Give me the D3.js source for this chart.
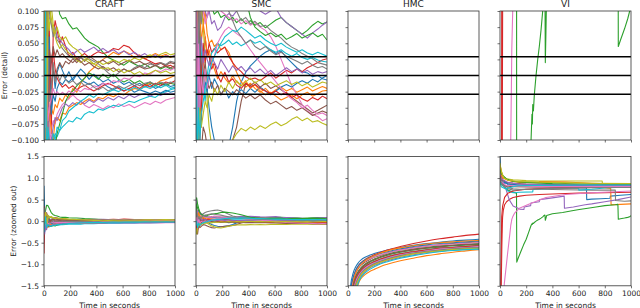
<!DOCTYPE html>
<html><head><meta charset="utf-8">
<script src="https://cdn.jsdelivr.net/npm/d3@7"></script>
<style>body{margin:0;background:#fff}svg{display:block}text{font-family:"DejaVu Sans",sans-serif;fill:#222}</style>
</head><body><svg id="c" width="640" height="308"></svg>
<script>
const methods = ["CRAFT", "SMC", "HMC", "VI"];
const colors = ["#1f77b4","#ff7f0e","#2ca02c","#d62728","#9467bd","#8c564b","#e377c2","#7f7f7f","#bcbd22","#17becf"];
const detailTicks = [-0.1,-0.075,-0.05,-0.025,0,0.025,0.05,0.075,0.1];
const zoomTicks = [-1.5,-1,-0.5,0,0.5,1,1.5];
const timeTicks = [0,200,400,600,800,1000];
const refLevels = [0.029, 0, -0.029];

const gridT = [0,5,12,20,30,40,55,70,85,100,120,140,165,190,220,250,280,310,345,380,415,450,490,530,570,610,650,690,730,770,810,850,890,930,965,1000];

const craftSeries = [
 [0.82,0.25,0.08,-0.06,0.05,-0.04,0.03,0.012,-0.02,0.005,0.018,0.008,-0.004,0.006,-0.008,0.002,0.01,0.004,-0.006,0.002,-0.004,-0.01,-0.006,-0.012,-0.008,-0.014,-0.01,-0.016,-0.012,-0.018,-0.014,-0.02,-0.016,-0.013,-0.017,-0.015],
 [0.15,-0.2,0.12,-0.09,0.06,-0.07,-0.05,-0.06,-0.045,-0.05,-0.035,-0.04,-0.03,-0.036,-0.02,-0.026,-0.012,-0.004,0.006,0.012,0.02,0.025,0.03,0.036,0.032,0.038,0.034,0.028,0.032,0.026,0.03,0.034,0.03,0.033,0.028,0.031],
 [0.3,0.1,0.25,0.37,0.36,0.3,0.2,0.15,0.13,0.12,0.095,0.088,0.09,0.08,0.072,0.074,0.066,0.058,0.052,0.048,0.044,0.036,0.028,0.024,0.02,0.016,0.022,0.018,0.014,0.018,0.012,0.016,0.01,0.014,0.01,0.012],
 [0.35,-0.1,0.15,0.1,-0.12,0.08,-0.09,0.06,0.085,0.07,0.05,0.06,0.045,0.03,0.036,0.026,0.03,0.034,0.028,0.033,0.037,0.034,0.036,0.042,0.04,0.047,0.044,0.035,0.03,0.026,0.022,0.018,0.02,0.014,0.016,0.012],
 [-0.5,0.2,-0.1,0.15,0.12,0.09,0.08,0.07,0.075,0.06,0.056,0.05,0.045,0.04,0.032,0.038,0.041,0.036,0.04,0.044,0.038,0.042,0.036,0.04,0.034,0.038,0.032,0.036,0.03,0.034,0.028,0.032,0.027,0.031,0.029,0.031],
 [0.05,0.1,-0.15,0.2,0.08,0.03,-0.02,0.012,-0.008,0.01,0.02,0.012,0.022,0.018,0.026,0.02,0.028,0.022,0.03,0.025,0.02,0.024,0.018,0.022,0.016,0.02,0.024,0.019,0.022,0.017,0.02,0.015,0.019,0.016,0.02,0.018],
 [0.1,-0.15,0.2,0.1,-0.05,-0.11,-0.085,-0.07,-0.075,-0.06,-0.052,-0.045,-0.04,-0.036,-0.03,-0.036,-0.04,-0.046,-0.05,-0.045,-0.048,-0.052,-0.047,-0.05,-0.044,-0.048,-0.045,-0.05,-0.046,-0.042,-0.045,-0.04,-0.043,-0.038,-0.036,-0.034],
 [-0.2,0.3,0.15,-0.1,0.12,0.1,0.08,0.06,0.07,0.055,0.05,0.042,0.036,0.03,0.027,0.024,0.028,0.024,0.026,0.022,0.018,0.012,0.004,-0.002,0.004,0.01,0.006,0.012,0.016,0.012,0.018,0.015,0.02,0.017,0.022,0.02],
 [0.15,-0.08,0.2,0.1,0.14,0.11,0.09,0.07,0.06,0.05,0.042,0.048,0.04,0.035,0.03,0.024,0.02,0.025,0.02,0.018,0.022,0.017,0.02,0.024,0.02,0.025,0.022,0.027,0.024,0.029,0.032,0.028,0.033,0.036,0.032,0.034],
 [-0.1,-0.25,-0.15,-0.12,-0.1,-0.12,-0.11,-0.1,-0.09,-0.095,-0.085,-0.08,-0.075,-0.07,-0.072,-0.065,-0.068,-0.06,-0.056,-0.058,-0.052,-0.054,-0.05,-0.046,-0.048,-0.044,-0.04,-0.042,-0.038,-0.035,-0.032,-0.034,-0.028,-0.025,-0.022,-0.02],
 [-0.1,0.1,-0.05,0.05,-0.08,0.06,-0.06,-0.03,-0.04,-0.02,-0.01,-0.014,-0.006,-0.01,-0.004,0.002,-0.006,-0.01,-0.014,-0.01,-0.016,-0.012,-0.018,-0.022,-0.018,-0.024,-0.02,-0.026,-0.022,-0.025,-0.028,-0.024,-0.027,-0.023,-0.026,-0.024],
 [0.2,0.05,-0.2,-0.1,-0.15,-0.06,-0.08,-0.1,-0.07,-0.065,-0.07,-0.058,-0.06,-0.05,-0.046,-0.042,-0.045,-0.04,-0.036,-0.04,-0.034,-0.036,-0.03,-0.033,-0.028,-0.03,-0.024,-0.02,-0.022,-0.016,-0.012,-0.014,-0.008,-0.006,-0.003,0.0],
 [0.0,0.1,-0.05,-0.08,-0.1,-0.13,-0.12,-0.1,-0.11,-0.09,-0.075,-0.06,-0.04,-0.03,-0.024,-0.016,-0.01,-0.004,0.004,0.0,-0.006,0.002,-0.004,0.002,-0.006,-0.01,-0.006,-0.012,-0.008,-0.014,-0.01,-0.016,-0.012,-0.016,-0.012,-0.014],
 [-0.75,0.05,0.1,-0.05,0.04,-0.03,0.02,0.04,0.01,-0.004,-0.012,-0.018,-0.014,-0.02,-0.016,-0.022,-0.018,-0.015,-0.02,-0.024,-0.02,-0.016,-0.012,-0.016,-0.02,-0.024,-0.02,-0.016,-0.02,-0.014,-0.018,-0.012,-0.015,-0.01,-0.012,-0.008],
 [0.08,-0.3,-0.1,-0.2,0.05,-0.12,-0.1,-0.08,-0.065,-0.07,-0.06,-0.05,-0.044,-0.048,-0.042,-0.046,-0.04,-0.044,-0.038,-0.042,-0.036,-0.04,-0.034,-0.038,-0.032,-0.036,-0.03,-0.034,-0.03,-0.028,-0.032,-0.028,-0.031,-0.027,-0.029,-0.028],
 [0.1,-0.05,0.06,0.12,-0.06,0.04,0.02,0.045,0.03,0.04,0.03,0.034,0.028,0.024,0.02,0.026,0.022,0.016,0.02,0.014,0.01,0.014,0.008,0.012,0.006,0.01,0.006,0.01,0.014,0.01,0.012,0.016,0.012,0.015,0.012,0.015],
 [-0.2,0.15,-0.08,0.06,-0.07,-0.05,-0.035,-0.02,-0.03,-0.025,-0.03,-0.026,-0.03,-0.024,-0.028,-0.022,-0.025,-0.02,-0.022,-0.016,-0.018,-0.012,-0.014,-0.008,-0.01,-0.004,-0.006,0.0,-0.002,0.004,0.002,0.008,0.006,0.01,0.008,0.012],
 [0.05,-0.08,0.1,0.03,0.06,-0.04,-0.02,0.02,-0.01,0.004,-0.008,0.002,-0.006,-0.012,-0.008,-0.014,-0.01,-0.016,-0.012,-0.018,-0.022,-0.018,-0.024,-0.02,-0.016,-0.02,-0.016,-0.012,-0.016,-0.012,-0.01,-0.014,-0.01,-0.013,-0.01,-0.012],
 [-0.05,0.1,0.2,-0.1,0.1,0.07,0.11,0.08,0.065,0.075,0.06,0.055,0.06,0.05,0.044,0.04,0.034,0.028,0.024,0.018,0.014,0.01,0.012,0.006,0.01,0.004,0.008,0.002,0.006,0.0,0.004,0.008,0.004,0.007,0.003,0.005],
 [-0.25,-0.1,0.1,-0.15,-0.08,-0.1,-0.12,-0.09,-0.1,-0.08,-0.085,-0.07,-0.065,-0.055,-0.05,-0.045,-0.04,-0.036,-0.03,-0.034,-0.028,-0.03,-0.026,-0.022,-0.025,-0.02,-0.023,-0.018,-0.022,-0.017,-0.02,-0.016,-0.019,-0.015,-0.02,-0.018]
];

const smcSeries = [
 [0.1,-0.1,0.05,-0.05,0.06,0.02,-0.03,0.01,-0.02,-0.05,-0.08,-0.1,-0.12,-0.13,-0.12,-0.11,-0.08,-0.04,-0.01,0.005,0.015,0.022,0.03,0.036,0.04,0.034,0.038,0.028,0.02,0.012,0.006,0.004,-0.002,0.0,-0.005,-0.007],
 [0.2,0.1,0.25,0.15,0.2,0.12,0.08,0.1,0.065,0.05,0.055,0.045,0.05,0.04,0.044,0.036,0.02,0.005,-0.01,-0.018,-0.012,-0.02,-0.026,-0.02,-0.028,-0.022,-0.018,-0.024,-0.02,-0.026,-0.022,-0.018,-0.024,-0.02,-0.017,-0.02],
 [0.3,0.54,0.4,0.3,0.2,0.15,0.12,0.13,0.11,0.1,0.105,0.095,0.1,0.09,0.094,0.086,0.09,0.082,0.088,0.08,0.085,0.078,0.082,0.074,0.08,0.086,0.09,0.082,0.076,0.07,0.064,0.07,0.078,0.084,0.08,0.083],
 [-0.1,-0.15,-0.05,-0.12,0.05,-0.08,0.02,0.06,0.03,0.05,0.036,0.042,0.035,0.04,0.044,0.03,0.02,0.012,0.006,-0.002,-0.006,-0.004,-0.008,-0.002,0.004,-0.004,0.002,0.008,0.004,0.01,0.006,0.012,0.016,0.02,0.024,0.026],
 [0.5,0.3,0.2,0.25,0.15,0.18,0.12,0.1,0.09,0.1,0.08,0.085,0.07,0.075,0.09,0.096,0.092,0.1,0.11,0.105,0.115,0.108,0.1,0.095,0.1,0.104,0.09,0.082,0.076,0.07,0.064,0.058,0.066,0.072,0.078,0.083],
 [-0.15,-0.2,-0.3,-0.1,-0.15,-0.12,-0.08,-0.09,-0.11,-0.13,-0.15,-0.16,-0.14,-0.13,-0.12,-0.11,-0.1,-0.08,-0.04,-0.012,-0.016,-0.01,-0.018,-0.012,-0.02,-0.016,-0.022,-0.028,-0.034,-0.04,-0.046,-0.052,-0.058,-0.054,-0.05,-0.046],
 [0.4,0.2,0.1,0.15,0.08,0.12,0.1,0.08,0.09,0.11,0.1,0.12,0.11,0.1,0.095,0.09,0.085,0.088,0.08,0.085,0.078,0.082,0.075,0.07,0.06,0.045,0.025,0.005,-0.015,-0.03,-0.045,-0.055,-0.06,-0.064,-0.07,-0.067],
 [0.1,0.2,0.15,0.18,0.2,0.15,0.17,0.2,0.22,0.23,0.24,0.25,0.26,0.24,0.2,0.16,0.12,0.1,0.085,0.09,0.08,0.084,0.076,0.078,0.07,0.064,0.058,0.05,0.044,0.04,0.034,0.03,0.026,0.02,0.018,0.016],
 [-0.3,-0.2,-0.1,-0.05,0.05,0.1,0.08,0.02,-0.04,-0.08,-0.11,-0.13,-0.15,-0.16,-0.14,-0.12,-0.1,-0.09,-0.082,-0.086,-0.08,-0.084,-0.078,-0.082,-0.076,-0.072,-0.078,-0.074,-0.068,-0.064,-0.07,-0.066,-0.072,-0.07,-0.074,-0.077],
 [0.05,-0.05,0.08,-0.08,0.1,0.04,-0.02,-0.04,0.0,0.02,0.035,0.04,0.05,0.046,0.05,0.055,0.048,0.052,0.046,0.05,0.055,0.05,0.053,0.046,0.04,0.036,0.04,0.034,0.03,0.034,0.028,0.025,0.028,0.024,0.022,0.021],
 [-0.05,0.05,-0.02,0.02,-0.04,-0.02,-0.03,-0.01,-0.025,0.0,-0.02,-0.005,-0.015,-0.03,-0.02,-0.035,-0.025,-0.03,-0.022,-0.028,-0.02,-0.026,-0.018,-0.024,-0.03,-0.024,-0.018,-0.014,-0.018,-0.012,-0.008,-0.012,-0.006,-0.01,-0.004,0.0],
 [0.1,0.15,0.05,0.2,0.1,0.05,0.08,0.06,0.03,0.04,0.02,0.01,-0.005,0.006,-0.004,-0.012,0.0,-0.01,-0.016,-0.008,-0.02,-0.014,-0.024,-0.03,-0.026,-0.032,-0.038,-0.034,-0.03,-0.036,-0.03,-0.026,-0.032,-0.028,-0.024,-0.023],
 [0.2,0.4,0.3,0.25,0.2,0.16,0.14,0.12,0.13,0.15,0.16,0.17,0.18,0.2,0.21,0.2,0.19,0.17,0.15,0.12,0.09,0.075,0.068,0.062,0.066,0.06,0.064,0.056,0.06,0.065,0.058,0.062,0.066,0.06,0.064,0.055],
 [-0.15,-0.1,-0.2,-0.05,-0.1,0.0,0.05,0.02,0.04,0.03,0.01,0.02,0.0,-0.01,0.005,-0.01,-0.005,-0.015,-0.02,-0.012,-0.018,-0.014,-0.02,-0.024,-0.028,-0.024,-0.03,-0.026,-0.034,-0.03,-0.036,-0.04,-0.034,-0.038,-0.032,-0.036],
 [-0.1,0.1,0.05,-0.05,0.03,0.06,0.02,0.04,0.025,0.015,0.03,0.02,0.01,0.025,0.015,0.005,0.015,0.008,0.014,0.006,0.012,0.004,0.01,0.002,0.008,0.0,0.006,0.012,0.006,0.01,0.004,0.008,0.002,0.006,0.004,0.006],
 [0.05,-0.1,-0.05,0.1,0.05,-0.03,0.0,0.02,-0.01,-0.02,-0.01,-0.025,-0.015,-0.03,-0.02,-0.025,-0.03,-0.022,-0.028,-0.035,-0.03,-0.036,-0.03,-0.038,-0.044,-0.04,-0.046,-0.052,-0.048,-0.054,-0.05,-0.056,-0.062,-0.058,-0.055,-0.058],
 [0.0,0.1,-0.1,0.05,-0.05,0.0,-0.03,0.01,-0.02,0.0,0.02,0.03,0.05,0.06,0.07,0.075,0.07,0.065,0.06,0.05,0.04,0.03,0.02,0.01,0.0,-0.01,-0.02,-0.03,-0.036,-0.042,-0.05,-0.046,-0.054,-0.06,-0.058,-0.062],
 [0.2,0.1,0.15,0.05,0.1,0.08,0.12,0.14,0.15,0.16,0.17,0.16,0.15,0.14,0.12,0.1,0.085,0.07,0.06,0.05,0.055,0.045,0.04,0.045,0.038,0.032,0.036,0.03,0.026,0.022,0.018,0.022,0.016,0.012,0.014,0.01],
 [-0.2,-0.3,-0.15,-0.1,-0.05,-0.08,-0.06,-0.04,-0.05,-0.03,-0.04,-0.02,-0.03,-0.015,-0.025,-0.01,-0.02,-0.008,-0.016,-0.01,-0.004,-0.012,-0.006,-0.014,-0.01,-0.016,-0.012,-0.008,-0.014,-0.01,-0.016,-0.012,-0.018,-0.014,-0.01,-0.012],
 [-0.1,0.0,-0.15,-0.05,-0.1,-0.06,-0.04,-0.02,-0.01,0.005,0.02,0.03,0.04,0.05,0.06,0.065,0.07,0.068,0.075,0.07,0.064,0.058,0.062,0.055,0.05,0.046,0.05,0.044,0.04,0.036,0.04,0.035,0.032,0.036,0.033,0.03]
];

const hmcT = [0,20,40,60,80,100,130,160,200,250,300,400,500,600,700,800,900,1000];
const hmcSeries = [
 [-3,-1.5,-1.2,-1.05,-0.96,-0.9,-0.84,-0.8,-0.75,-0.71,-0.67,-0.61,-0.56,-0.52,-0.49,-0.46,-0.44,-0.42],
 [-4,-3.5,-2.5,-1.75,-1.45,-1.33,-1.24,-1.18,-1.12,-1.05,-1.0,-0.92,-0.86,-0.8,-0.76,-0.72,-0.69,-0.66],
 [-3.5,-2.0,-1.5,-1.28,-1.16,-1.08,-1.0,-0.94,-0.88,-0.82,-0.77,-0.7,-0.65,-0.61,-0.58,-0.56,-0.54,-0.52],
 [-3,-1.7,-1.32,-1.14,-1.03,-0.96,-0.89,-0.84,-0.78,-0.72,-0.67,-0.59,-0.52,-0.46,-0.41,-0.37,-0.33,-0.3],
 [-3.8,-2.6,-1.7,-1.42,-1.28,-1.19,-1.1,-1.04,-0.98,-0.92,-0.87,-0.79,-0.73,-0.69,-0.66,-0.63,-0.61,-0.6],
 [-3.2,-1.9,-1.4,-1.2,-1.09,-1.02,-0.95,-0.9,-0.84,-0.79,-0.74,-0.67,-0.62,-0.58,-0.55,-0.52,-0.5,-0.48],
 [-3.2,-1.8,-1.38,-1.18,-1.07,-1.0,-0.93,-0.88,-0.83,-0.78,-0.74,-0.67,-0.62,-0.58,-0.55,-0.53,-0.51,-0.5],
 [-3.6,-2.3,-1.6,-1.35,-1.22,-1.13,-1.05,-0.99,-0.93,-0.87,-0.82,-0.75,-0.7,-0.66,-0.62,-0.6,-0.58,-0.56],
 [-4,-3,-1.9,-1.5,-1.34,-1.24,-1.14,-1.07,-1.0,-0.94,-0.89,-0.81,-0.75,-0.71,-0.68,-0.65,-0.63,-0.62],
 [-3.7,-2.4,-1.65,-1.38,-1.25,-1.16,-1.08,-1.02,-0.96,-0.9,-0.85,-0.77,-0.72,-0.68,-0.64,-0.62,-0.6,-0.58],
 [-3,-1.6,-1.3,-1.13,-1.03,-0.97,-0.9,-0.85,-0.8,-0.75,-0.71,-0.64,-0.59,-0.55,-0.52,-0.5,-0.48,-0.46],
 [-3.3,-2.0,-1.42,-1.2,-1.08,-1.0,-0.92,-0.86,-0.8,-0.74,-0.69,-0.62,-0.57,-0.53,-0.5,-0.48,-0.46,-0.45],
 [-3.5,-2.1,-1.52,-1.3,-1.18,-1.1,-1.02,-0.96,-0.9,-0.84,-0.79,-0.72,-0.67,-0.63,-0.6,-0.57,-0.55,-0.54],
 [-3.6,-2.3,-1.62,-1.36,-1.23,-1.14,-1.06,-1.0,-0.94,-0.88,-0.83,-0.76,-0.71,-0.67,-0.63,-0.61,-0.59,-0.57],
 [-4,-3.2,-2.0,-1.55,-1.38,-1.27,-1.17,-1.1,-1.03,-0.97,-0.92,-0.84,-0.78,-0.73,-0.7,-0.67,-0.65,-0.64],
 [-3.4,-2.0,-1.5,-1.29,-1.17,-1.09,-1.01,-0.95,-0.89,-0.83,-0.78,-0.71,-0.66,-0.62,-0.59,-0.56,-0.54,-0.53],
 [-3.8,-2.5,-1.68,-1.4,-1.27,-1.18,-1.09,-1.03,-0.97,-0.91,-0.86,-0.78,-0.73,-0.69,-0.65,-0.63,-0.61,-0.59],
 [-3.9,-2.8,-1.8,-1.46,-1.31,-1.21,-1.12,-1.06,-0.99,-0.93,-0.88,-0.8,-0.74,-0.7,-0.67,-0.64,-0.62,-0.61],
 [-4,-3.1,-1.95,-1.52,-1.36,-1.25,-1.15,-1.08,-1.01,-0.95,-0.9,-0.82,-0.76,-0.72,-0.69,-0.66,-0.64,-0.63],
 [-4,-3.4,-2.3,-1.65,-1.42,-1.3,-1.2,-1.13,-1.06,-0.99,-0.94,-0.86,-0.8,-0.75,-0.71,-0.68,-0.66,-0.65]
];

const viSeries = [
 [[0,1.55],[5,1.1],[15,0.95],[40,0.88],[80,0.86],[150,0.84],[250,0.82],[400,0.8],[550,0.78],[660,0.77],[662,0.5],[700,0.51],[770,0.52],[840,0.53],[842,0.58],[920,0.6],[1000,0.62]],
 [[0,1.3],[10,1.15],[30,1.0],[60,0.95],[120,0.92],[200,0.9],[300,0.9],[450,0.89],[600,0.84],[700,0.8],[845,0.76],[848,0.38],[920,0.39],[1000,0.4]],
 [[0,0.95],[10,0.85],[30,0.8],[60,0.72],[90,0.68],[126,0.65],[128,-0.95],[140,-0.85],[160,-0.7],[180,-0.55],[200,-0.42],[220,-0.25],[237,-0.1],[244,-0.06],[247,-0.075],[250,-0.045],[255,-0.055],[262,-0.03],[275,0.0],[288,0.025],[300,0.045],[313,0.07],[326,0.1],[335,0.13],[343,0.14],[346,0.02],[350,0.06],[356,0.13],[400,0.17],[478,0.2],[550,0.24],[605,0.27],[670,0.3],[733,0.33],[800,0.36],[880,0.38],[900,0.39],[903,0.045],[920,0.055],[950,0.072],[975,0.088],[990,0.1],[1000,0.13]],
 [[0,-3],[8,-1.8],[14,-0.6],[18,-0.05],[20,0.1],[25,0.25],[35,0.38],[50,0.45],[70,0.5],[100,0.55],[150,0.58],[200,0.6],[300,0.62],[400,0.63],[500,0.64],[600,0.65],[800,0.66],[1000,0.67]],
 [[0,1.2],[15,1.0],[30,0.9],[50,0.7],[70,0.5],[100,0.35],[150,0.28],[183,0.27],[185,0.33],[234,0.36],[236,0.42],[300,0.45],[302,0.5],[400,0.54],[490,0.58],[492,0.3],[560,0.33],[650,0.38],[700,0.4],[800,0.45],[900,0.5],[1000,0.56]],
 [[0,1.2],[8,1.05],[20,0.95],[50,0.9],[100,0.88],[200,0.86],[400,0.85],[600,0.84],[800,0.84],[1000,0.83]],
 [[0,-4],[33,-1.45],[58,-0.75],[75,-0.3],[82,-0.1],[88,0.0],[90,0.04],[97,0.1],[110,0.18],[148,0.3],[224,0.4],[351,0.55],[500,0.62],[700,0.66],[1000,0.7]],
 [[0,1.1],[10,0.95],[30,0.85],[60,0.78],[100,0.75],[150,0.74],[300,0.74],[500,0.73],[700,0.72],[880,0.72],[882,0.48],[950,0.46],[1000,0.47]],
 [[0,1.3],[8,1.2],[20,1.05],[50,0.98],[100,0.96],[200,0.94],[300,0.93],[500,0.93],[780,0.93],[782,0.86],[1000,0.85]],
 [[0,1.0],[10,0.9],[30,0.8],[60,0.7],[100,0.66],[150,0.67],[250,0.68],[252,0.74],[400,0.76],[500,0.77],[600,0.76],[602,0.72],[700,0.74],[800,0.77],[1000,0.8]],
 [[0,1.0],[10,0.95],[20,0.85],[40,0.92],[60,0.85],[100,0.84],[300,0.83],[600,0.82],[1000,0.8]],
 [[0,1.25],[5,1.1],[20,1.0],[40,0.98],[80,0.93],[150,0.9],[300,0.89],[301,0.92],[500,0.91],[700,0.88],[1000,0.85]],
 [[0,1.2],[10,1.1],[25,1.05],[50,0.98],[100,0.92],[200,0.9],[400,0.87],[700,0.86],[1000,0.85]],
 [[0,-2.5],[11,-0.4],[12,-0.1],[13,0.1],[20,0.35],[35,0.55],[60,0.65],[100,0.7],[200,0.74],[400,0.77],[700,0.79],[1000,0.8]],
 [[0,1.1],[10,0.98],[30,0.95],[60,0.9],[150,0.86],[400,0.84],[1000,0.83]],
 [[0,1.05],[10,0.9],[40,0.82],[100,0.8],[300,0.79],[600,0.78],[1000,0.79]],
 [[0,0.95],[15,0.9],[40,0.84],[100,0.82],[300,0.8],[700,0.8],[1000,0.8]],
 [[0,1.0],[15,0.85],[50,0.76],[100,0.72],[200,0.74],[500,0.76],[800,0.78],[1000,0.78]],
 [[0,1.35],[10,1.15],[30,1.0],[60,0.95],[150,0.92],[400,0.9],[700,0.88],[1000,0.87]],
 [[0,0.9],[10,0.8],[40,0.75],[100,0.8],[140,0.82],[300,0.83],[600,0.84],[1000,0.84]]
];

// ---------- build ----------
const panelData = [
  craftSeries.map(s => gridT.map((t, i) => [t, s[i]])),
  smcSeries.map(s => gridT.map((t, i) => [t, s[i]])),
  hmcSeries.map(s => hmcT.map((t, i) => [t, s[i]])),
  viSeries
];
const curves = [d3.curveLinear, d3.curveLinear, d3.curveMonotoneX, d3.curveLinear];

const svg = d3.select("#c");
const lefts = [44, 196, 348, 500], W = 131;
const rows = [
  {top: 11, bottom: 140, domain: [-0.1, 0.1], ticks: detailTicks, fmt: d3.format(".3f"), label: "Error (detail)", labelX: 6.5},
  {top: 156.5, bottom: 285.8, domain: [-1.5, 1.5], ticks: zoomTicks, fmt: d3.format(".1f"), label: "Error (zoomed out)", labelX: 15.5}
];
const FS = 7.5;

rows.forEach((row, ri) => {
  methods.forEach((m, pi) => {
    const x = d3.scaleLinear().domain([0, 1000]).range([lefts[pi], lefts[pi] + W]);
    const y = d3.scaleLinear().domain(row.domain).range([row.bottom, row.top]);
    const g = svg.append("g");
    const cid = `clip-${ri}-${pi}`;
    svg.append("clipPath").attr("id", cid).append("rect")
      .attr("x", lefts[pi]).attr("y", row.top).attr("width", W).attr("height", row.bottom - row.top);
    const lg = g.append("g").attr("clip-path", `url(#${cid})`);
    const line = d3.line().x(d => x(d[0])).y(d => y(d[1])).curve(curves[pi]);
    panelData[pi].forEach((s, si) => {
      lg.append("path").attr("d", line(s)).attr("fill", "none")
        .attr("stroke", colors[si % 10]).attr("stroke-width", 1.1).attr("stroke-linejoin", "round");
    });
    if (ri === 0) {
      refLevels.forEach(v => {
        lg.append("line").attr("x1", lefts[pi]).attr("x2", lefts[pi] + W)
          .attr("y1", y(v)).attr("y2", y(v)).attr("stroke", "#000").attr("stroke-width", 1.4);
      });
    }
    const ax = d3.axisBottom(x).tickValues(timeTicks).tickSize(2.5).tickPadding(2.5)
      .tickFormat(ri === 1 ? d3.format("d") : () => "");
    const axG = g.append("g").attr("transform", `translate(0,${row.bottom})`).call(ax);
    const ay = d3.axisLeft(y).tickValues(row.ticks).tickSize(2.5).tickPadding(2.5)
      .tickFormat(pi === 0 ? row.fmt : () => "");
    const ayG = g.append("g").attr("transform", `translate(${lefts[pi]},0)`).call(ay);
    [axG, ayG].forEach(a => {
      a.select(".domain").remove();
      a.selectAll(".tick line").attr("stroke", "#333").attr("stroke-width", 0.7);
      a.selectAll("text").attr("font-size", FS).attr("font-family", "DejaVu Sans").attr("fill", "#222");
    });
    g.append("rect").attr("x", lefts[pi]).attr("y", row.top).attr("width", W).attr("height", row.bottom - row.top)
      .attr("fill", "none").attr("stroke", "#333").attr("stroke-width", 0.8);
    if (ri === 0) {
      g.append("text").attr("x", lefts[pi] + W / 2).attr("y", 7).attr("text-anchor", "middle")
        .attr("font-size", 9).text(m);
    } else {
      g.append("text").attr("x", lefts[pi] + W / 2).attr("y", 307.5).attr("text-anchor", "middle")
        .attr("font-size", FS).text("Time in seconds");
    }
    if (pi === 0) {
      g.append("text").attr("transform", `translate(${row.labelX},${(row.top + row.bottom) / 2}) rotate(-90)`)
        .attr("text-anchor", "middle").attr("font-size", FS).text(row.label);
    }
  });
});
</script></body></html>
